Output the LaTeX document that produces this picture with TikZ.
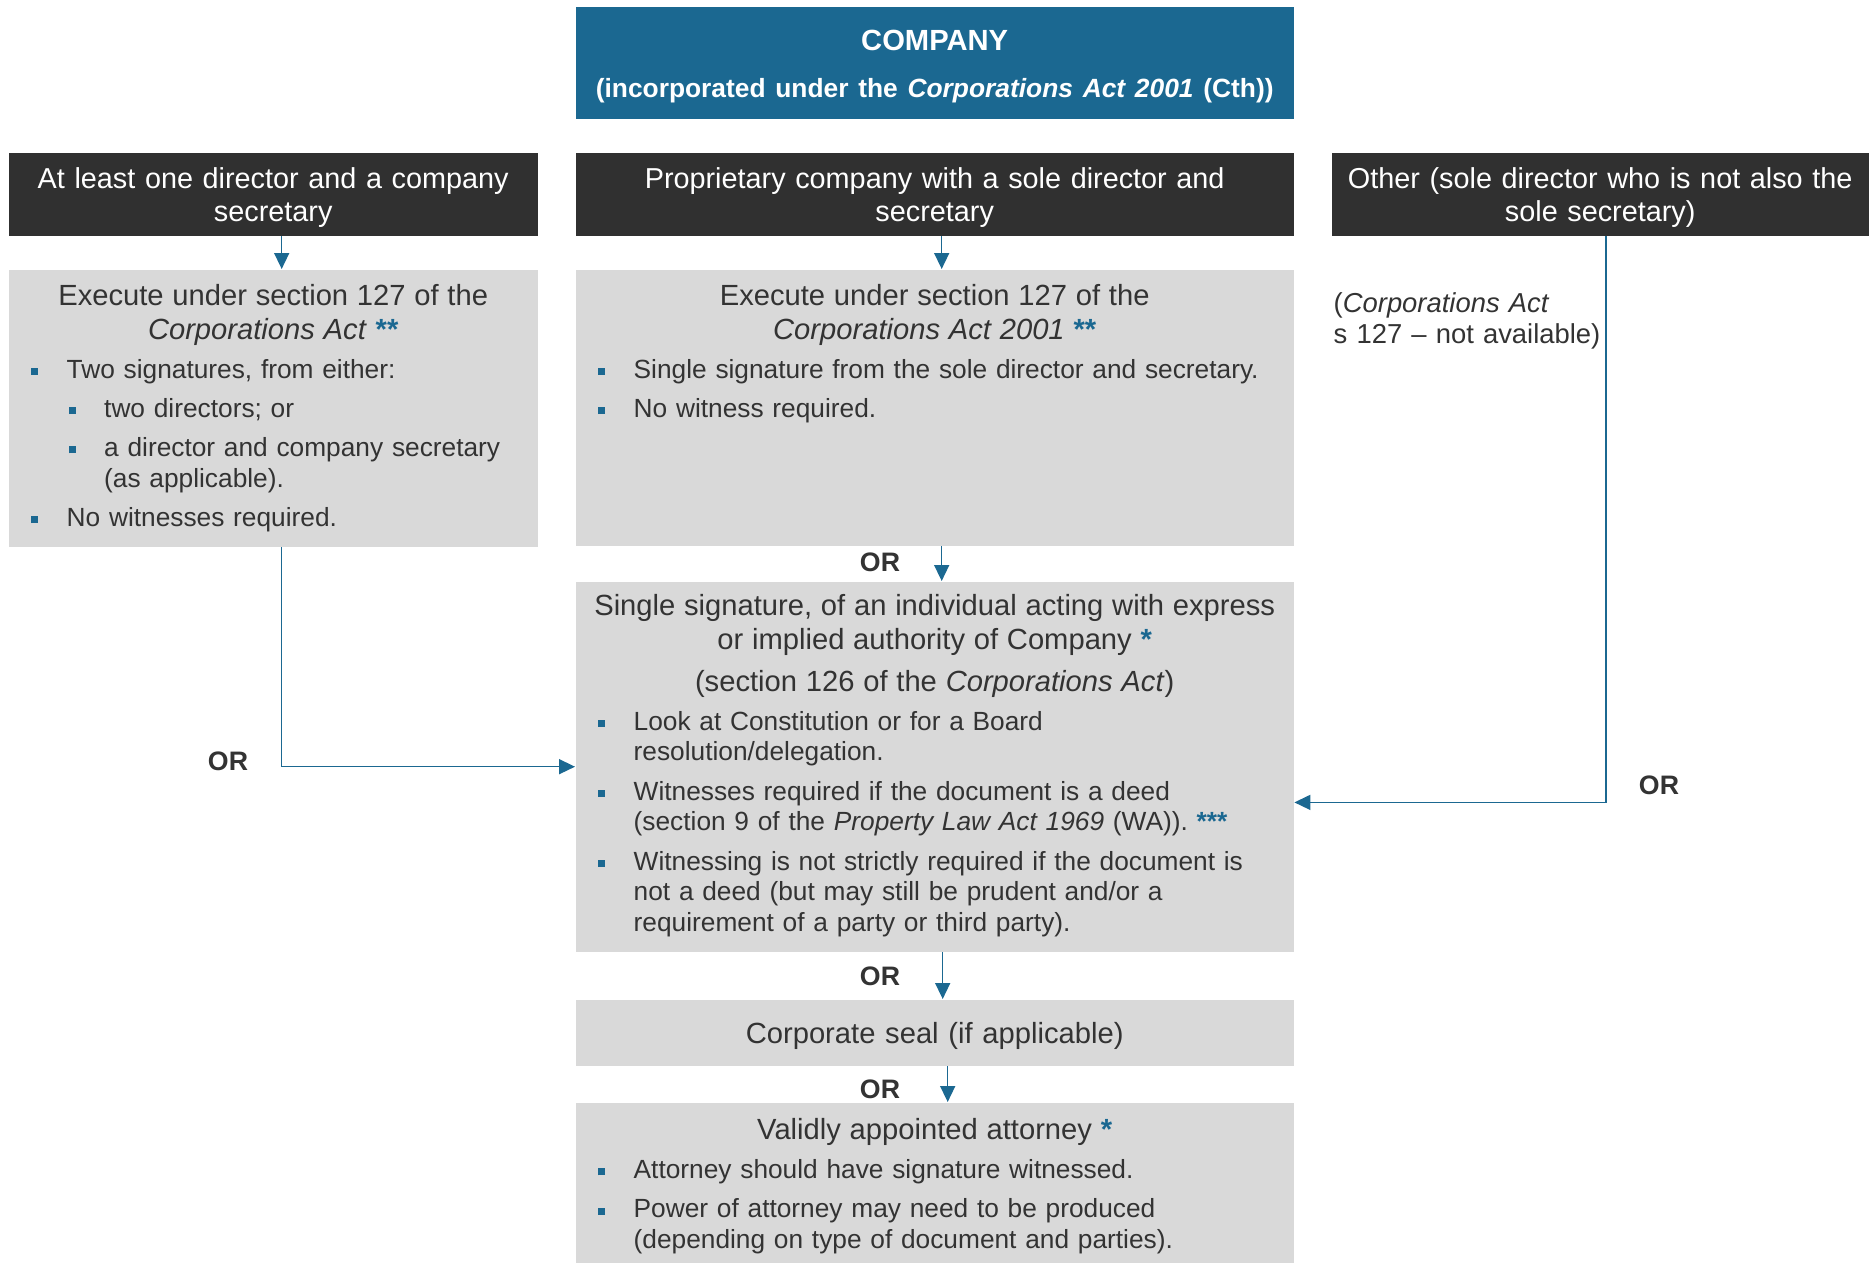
\documentclass[tikz,border=0pt]{standalone}
\usepackage{fontspec}
\setmainfont{Liberation Sans}
\usetikzlibrary{arrows.meta,positioning}

\definecolor{brandblue}{HTML}{1B6891}
\definecolor{hdrdark}{HTML}{303030}
\definecolor{panelgrey}{HTML}{D9D9D9}
\definecolor{inkgrey}{HTML}{333333}

\newcommand{\headsize}{\fontsize{8.3pt}{3.4mm}\selectfont}
\newcommand{\bodysize}{\fontsize{7.48pt}{3.07mm}\selectfont}
\newcommand{\stars}[1]{\textcolor{brandblue}{\textbf{#1}}}
\newcommand{\bsq}{\textcolor{brandblue}{\rule[0.33mm]{0.7mm}{0.7mm}}}
% centred heading line(s) of a panel
\newcommand{\phead}[1]{{\centering\headsize #1\par}}
% bullet and sub-bullet paragraphs
\newcommand{\bitem}[1]{\par\vspace{0.85mm}\noindent
  \leftskip=2.25mm\rightskip=0pt plus 1fil\relax
  \hangindent=3.55mm\hangafter=1\relax
  \makebox[3.55mm][l]{\bsq}#1\par}
\newcommand{\sitem}[1]{\par\vspace{0.85mm}\noindent
  \leftskip=2.25mm\rightskip=0pt plus 1fil\relax
  \hangindent=7.3mm\hangafter=1\relax
  \hspace*{3.75mm}\makebox[3.55mm][l]{\bsq}#1\par}

\tikzset{
  topbox/.style={fill=brandblue, text=white, anchor=north west, inner sep=0pt,
    text width=71.8mm, align=center, text height=4.4mm, text depth=6.8mm,
    font=\bfseries\fontsize{8.3pt}{4.7mm}\selectfont},
  hdr/.style={fill=hdrdark, text=white, anchor=north west, inner sep=0pt,
    text width=#1, align=center, text height=3.55mm, text depth=4.75mm,
    font=\fontsize{8.2pt}{3.35mm}\selectfont},
  panel/.style n args={3}{fill=panelgrey, text=inkgrey, anchor=north west,
    inner sep=0pt, text width=#1, text height=#2, text depth=#3,
    font=\bodysize},
  note/.style={anchor=base west, inner sep=0pt, text width=32mm, align=left,
    text=inkgrey, font=\fontsize{7.8pt}{3.16mm}\selectfont},
  orlbl/.style={inner sep=0pt, text=inkgrey,
    font=\bfseries\fontsize{7.6pt}{9pt}\selectfont},
  flow/.style={draw=brandblue, line width=0.45pt,
    -{Triangle[length=1.6mm,width=1.5mm]}},
}

\begin{document}
\begin{tikzpicture}[x=0.1mm, y=-0.1mm]
  \useasboundingbox (0,0) rectangle (1874,1263);

  % company at the top
  \node[topbox] (company) at (575,6)
    {COMPANY\\{\fontsize{7.5pt}{4.7mm}\selectfont (incorporated under the \textit{Corporations Act 2001} (Cth))}};

  % the three kinds of officers
  \node[hdr=52.9mm] (twoOff) at (8,152) {At least one director and a company\\secretary};
  \node[hdr=71.8mm] (soleDS) at (575,152) {Proprietary company with a sole director and\\secretary};
  \node[hdr=53.7mm] (otherDS) at (1331,152) {Other (sole director who is not also the\\sole secretary)};

  % s 127 panels
  \node[panel={52.9mm}{3.53mm}{24.17mm}] (execTwo) at (8,269) {%
    \phead{Execute under section 127 of the\\\textit{Corporations Act} \stars{**}}
    \bitem{Two signatures, from either:}
    \sitem{two directors; or}
    \sitem{a director and company secretary\newline(as applicable).}
    \bitem{No witnesses required.}};

  \node[panel={71.8mm}{3.53mm}{24.07mm}] (execSole) at (575,269) {%
    \phead{Execute under section 127 of the\\\textit{Corporations Act 2001} \stars{**}}
    \bitem{Single signature from the sole director and secretary.}
    \bitem{No witness required.}};

  \node[note] (s127) at (1333,312) {(\textit{Corporations Act}\\s 127 -- not available)};

  % s 126 panel
  \node[panel={71.8mm}{3.33mm}{33.67mm}] (authSig) at (575,581) {%
    \phead{Single signature, of an individual acting with express\\or implied authority of Company \stars{*}}
    \vspace{0.8mm}
    \phead{(section 126 of the \textit{Corporations Act})}
    \bitem{Look at Constitution or for a Board\newline resolution/delegation.}
    \bitem{Witnesses required if the document is a deed\newline(section 9 of the \textit{Property Law Act 1969} (WA)). \stars{***}}
    \bitem{Witnessing is not strictly required if the document is\newline not a deed (but may still be prudent and/or a\newline requirement of a party or third party).}};

  \node[fill=panelgrey, text=inkgrey, anchor=north west, inner sep=0pt,
    text width=71.8mm, align=center, text height=4.4mm, text depth=2.2mm,
    font=\headsize] (seal) at (575,999) {Corporate seal (if applicable)};

  \node[panel={71.8mm}{3.67mm}{12.43mm}] (attorney) at (575,1102) {%
    \phead{Validly appointed attorney \stars{*}}
    \bitem{Attorney should have signature witnessed.}
    \bitem{Power of attorney may need to be produced\newline(depending on type of document and parties).}};

  % OR labels
  \node[orlbl] (or1) at (228,761) {OR};
  \node[orlbl] (or2) at (1659,785) {OR};
  \node[orlbl] (or3) at (880,562) {OR};
  \node[orlbl] (or4) at (880,976) {OR};
  \node[orlbl] (or5) at (880,1089) {OR};

  % connectors
  \draw[flow] ([xshift=0.85mm]twoOff.south) -- ([xshift=0.85mm]execTwo.north);
  \draw[flow] ([xshift=0.7mm]soleDS.south) -- ([xshift=0.7mm]execSole.north);
  \draw[flow] ([xshift=0.7mm]execSole.south) -- ([xshift=0.7mm]authSig.north);
  \draw[flow] ([xshift=0.8mm]authSig.south) -- ([xshift=0.8mm]seal.north);
  \draw[flow] ([xshift=1.3mm]seal.south) -- ([xshift=1.3mm]attorney.north);
  \draw[flow] ([xshift=0.85mm]execTwo.south) |- (authSig.west);
  \draw[flow] ([xshift=0.6mm]otherDS.south) |- ([yshift=-3.57mm]authSig.east);
\end{tikzpicture}
\end{document}
